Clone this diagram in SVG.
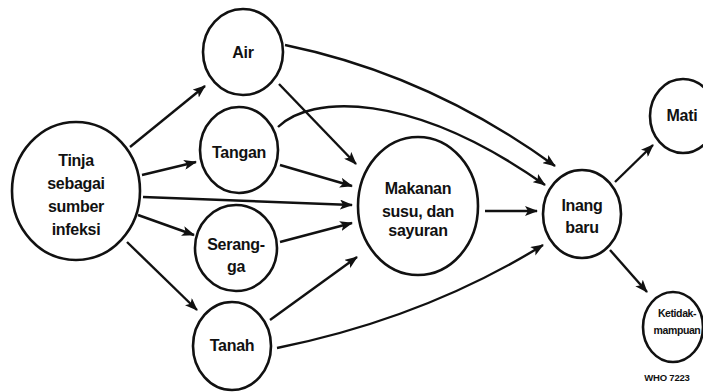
<svg xmlns="http://www.w3.org/2000/svg" width="703" height="392" viewBox="0 0 703 392">
<style>
.n{fill:#fff;stroke:#111;stroke-width:2.6}
.t{font-family:"Liberation Sans",Arial,sans-serif;font-weight:bold;font-size:16px;letter-spacing:-0.3px;fill:#111;text-anchor:middle}
.c{fill:none;stroke:#111;stroke-width:2.4;marker-end:url(#ah)}
</style>
<defs>
<marker id="ah" viewBox="0 0 13 10" refX="12" refY="5" markerWidth="13" markerHeight="10" markerUnits="userSpaceOnUse" orient="auto">
<path d="M0,0 L13,5 L0,10 L3,5 Z" fill="#111"/>
</marker>
</defs>
<rect width="703" height="392" fill="#fff"/>
<g id="connectors">
<path class="c" d="M130,147 L205,86"/>
<path class="c" d="M142,175 L196,162"/>
<path class="c" d="M143,197 L352,205"/>
<path class="c" d="M138,215 L194,235"/>
<path class="c" d="M127,242 L197,310"/>
<path class="c" d="M279,84 L356,164"/>
<path class="c" d="M280,165 L352,186"/>
<path class="c" d="M280,242 L352,223"/>
<path class="c" d="M270,320 L357,257"/>
<path class="c" d="M285,45 Q430,75 555,166"/>
<path class="c" d="M278,127 C310,95 410,90 545,185"/>
<path class="c" d="M277,348 Q425,318 543,245"/>
<path class="c" d="M485,211 L537,211"/>
<path class="c" d="M615,182 L653,145"/>
<path class="c" d="M610,250 L647,292"/>
</g>
<g id="tinja"><ellipse class="n" cx="76" cy="191" rx="64" ry="69"/>
<text class="t" x="76" y="166">Tinja</text><text class="t" x="76" y="189">sebagai</text><text class="t" x="76" y="212">sumber</text><text class="t" x="76" y="235">infeksi</text></g>
<g id="air"><ellipse class="n" cx="243" cy="52" rx="40" ry="43"/><text class="t" x="243" y="58">Air</text></g>
<g id="tangan"><ellipse class="n" cx="239" cy="150" rx="39" ry="43"/><text class="t" x="239" y="158">Tangan</text></g>
<g id="serangga"><ellipse class="n" cx="236" cy="248" rx="41" ry="43"/><text class="t" x="236" y="250">Serang-</text><text class="t" x="236" y="272">ga</text></g>
<g id="tanah"><ellipse class="n" cx="232" cy="346" rx="39" ry="44"/><text class="t" x="232" y="351">Tanah</text></g>
<g id="makanan"><ellipse class="n" cx="418" cy="206" rx="60" ry="69"/>
<text class="t" x="418" y="194">Makanan</text><text class="t" x="418" y="217">susu, dan</text><text class="t" x="418" y="236">sayuran</text></g>
<g id="inang"><ellipse class="n" cx="582" cy="214" rx="39" ry="44"/><text class="t" x="582" y="211">Inang</text><text class="t" x="582" y="233">baru</text></g>
<g id="mati"><ellipse class="n" cx="683" cy="116" rx="33" ry="37"/><text class="t" x="682" y="121">Mati</text></g>
<g id="ketidakmampuan"><ellipse class="n" cx="673" cy="327" rx="30" ry="35"/>
<text class="t" x="677" y="317" style="font-size:10.5px;letter-spacing:-0.4px">Ketidak-</text><text class="t" x="677" y="334" style="font-size:10.5px;letter-spacing:-0.4px">mampuan</text></g>
<text class="t" x="667" y="381" style="font-size:9.5px;letter-spacing:-0.2px">WHO 7223</text>
</svg>
